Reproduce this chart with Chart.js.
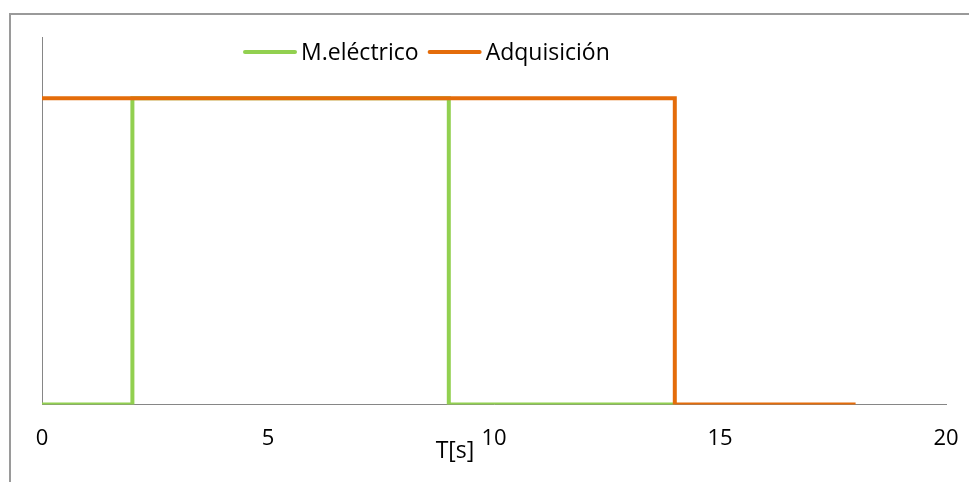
<!DOCTYPE html>
<html>
<head>
<meta charset="utf-8">
<script src="https://cdn.jsdelivr.net/npm/chart.js@4/dist/chart.umd.min.js"></script>
<style>
  html, body { margin: 0; padding: 0; background: #fff; }
  #wrap { position: relative; width: 969px; height: 482px; overflow: hidden; }
  #frame { position: absolute; left: 9px; top: 13px; width: 1000px; height: 520px;
           border-left: 2px solid #9a9a9a; border-top: 2px solid #9a9a9a; pointer-events: none; }
  canvas { position: absolute; left: 0; top: 0; }
</style>
</head>
<body>
<div id="wrap">
  <div id="frame"></div>
  <canvas id="c" width="969" height="482"></canvas>
</div>
<script>
// Switching times (s) and on/off states of each signal
const motorTimes = [0, 2, 9, 14];
const motorState = [0, 1, 0, 0];
const acqTimes = [0, 14, 18];
const acqState = [1, 0, 0];

const seriesNames = ['M.eléctrico', 'Adquisición'];
const seriesColors = ['#92D050', '#E46C0A'];
const xTicks = [0, 5, 10, 15, 20];
const xTitle = 'T[s]';

const FONT = '"Open Sans", sans-serif';

const toPoints = (xs, ys) => xs.map((x, i) => ({ x: x, y: ys[i] }));

// Legend drawn as short coloured lines followed by the series name
const lineLegend = {
  id: 'lineLegend',
  afterDraw(chart, args, opts) {
    const ctx = chart.ctx;
    ctx.save();
    ctx.font = opts.fontSize + 'px ' + FONT;
    ctx.textBaseline = 'middle';
    let x = opts.x;
    seriesNames.forEach((name, i) => {
      ctx.strokeStyle = seriesColors[i];
      ctx.lineWidth = 4;
      ctx.lineCap = 'round';
      ctx.beginPath();
      ctx.moveTo(x + 2, opts.y);
      ctx.lineTo(x + opts.lineLen - 2, opts.y);
      ctx.stroke();
      x += opts.lineLen + 4;
      ctx.fillStyle = '#000';
      ctx.fillText(name, x, opts.y + 1);
      x += ctx.measureText(name).width + opts.gap;
    });
    ctx.restore();
  }
};

// Axis title placed under the x axis, left of centre
const axisTitle = {
  id: 'axisTitle',
  afterDraw(chart, args, opts) {
    const ctx = chart.ctx;
    ctx.save();
    ctx.font = opts.fontSize + 'px ' + FONT;
    ctx.fillStyle = '#000';
    ctx.textAlign = 'center';
    ctx.textBaseline = 'middle';
    ctx.fillText(opts.text, opts.x, opts.y);
    ctx.restore();
  }
};

// Orange series listed first so that it is painted above the green one.
// stepped 'before': hold each value until the next time, then jump.
new Chart(document.getElementById('c'), {
  type: 'scatter',
  data: {
    datasets: [
      {
        label: seriesNames[1],
        data: toPoints(acqTimes, acqState),
        borderColor: seriesColors[1],
        backgroundColor: seriesColors[1],
        borderWidth: 4,
        showLine: true,
        stepped: 'before',
        pointRadius: 0,
        fill: false
      },
      {
        label: seriesNames[0],
        data: toPoints(motorTimes, motorState),
        borderColor: seriesColors[0],
        backgroundColor: seriesColors[0],
        borderWidth: 4,
        showLine: true,
        stepped: 'before',
        pointRadius: 0,
        fill: false
      }
    ]
  },
  options: {
    responsive: false,
    animation: false,
    layout: { padding: { left: 42, right: 23, top: 37, bottom: 9 } },
    plugins: {
      legend: { display: false },
      tooltip: { enabled: false },
      lineLegend: { x: 243, y: 52, lineLen: 54, gap: 9, fontSize: 23 },
      axisTitle: { text: xTitle, x: 455, y: 451, fontSize: 23 }
    },
    scales: {
      x: {
        type: 'linear',
        min: 0,
        max: 20,
        afterBuildTicks: axis => { axis.ticks = xTicks.map(v => ({ value: v })); },
        afterFit: axis => { axis.paddingLeft = 0; axis.paddingRight = 0; },
        grid: { display: false, drawTicks: false },
        border: { display: true, color: '#868686', width: 1 },
        ticks: { color: '#000', padding: 21, maxRotation: 0,
                 font: { family: FONT, size: 22 } }
      },
      y: {
        type: 'linear',
        min: 0,
        max: 1.2,
        afterFit: axis => { axis.paddingTop = 0; axis.paddingBottom = 0; },
        grid: { display: false, drawTicks: false },
        border: { display: true, color: '#868686', width: 1 },
        ticks: { display: false }
      }
    }
  },
  plugins: [lineLegend, axisTitle]
});
</script>
</body>
</html>
